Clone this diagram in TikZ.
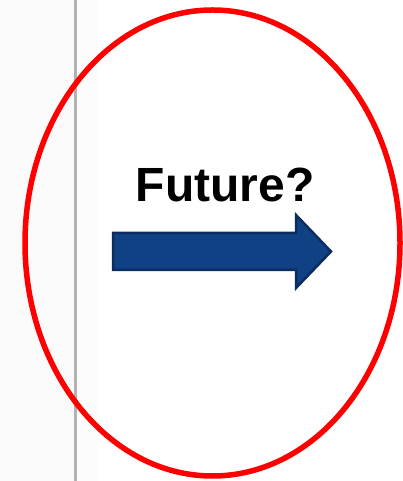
\documentclass[tikz,border=0pt]{standalone}
\usepackage{fontspec}
\setmainfont{Liberation Sans}
\usetikzlibrary{shapes.geometric}
\definecolor{arrowfill}{HTML}{114185}
\definecolor{arrowedge}{HTML}{0B2D5E}
\definecolor{ringred}{HTML}{FF0000}
\tikzset{
  ring/.style={draw=ringred, line width=5.5pt},
  bigarrow/.style={fill=arrowfill, draw=arrowedge, line width=2.5pt, line join=miter},
  title/.style={font=\bfseries\fontsize{48}{50}\selectfont, inner sep=0pt, anchor=base}
}
\begin{document}
\begin{tikzpicture}[x=1pt,y=1pt]
  \useasboundingbox (0,0) rectangle (403,481);
  \fill[white] (0,0) rectangle (403,481);
  \fill[gray!4] (0,0) rectangle (74,481);
  \fill[gray!2] (77,0) rectangle (97,481);
  \fill[gray!60] (74,0) rectangle (77,481);
  \node[ring, ellipse, minimum width=375pt, minimum height=466pt, inner sep=0pt] (ring) at (212.5,238) {};
  \node[title] (label) at (225,279) {Future?};
  \draw[bigarrow] (113,248) -- (296,248) -- (296,266) -- (331,229.5) -- (296,193) -- (296,211) -- (113,211) -- cycle;
\end{tikzpicture}
\end{document}
